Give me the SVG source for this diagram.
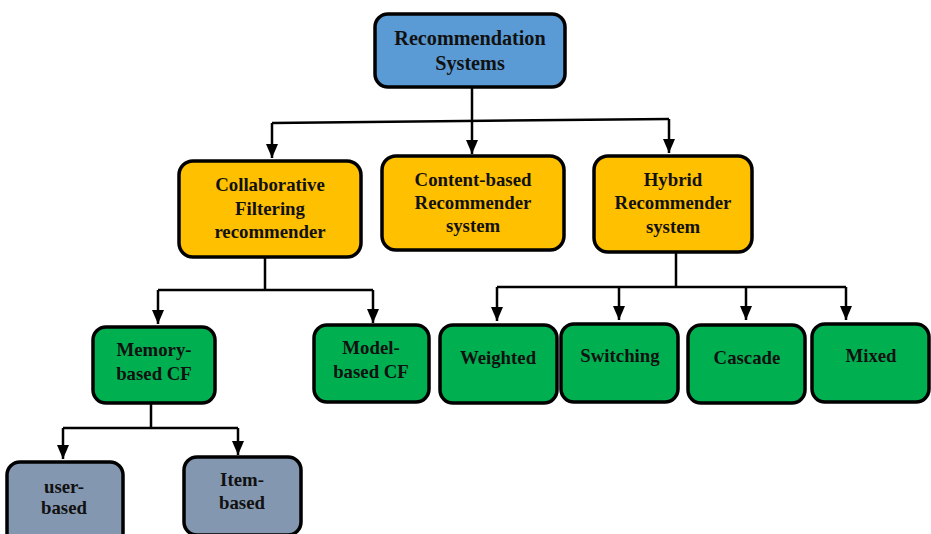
<svg xmlns="http://www.w3.org/2000/svg" width="931" height="534" viewBox="0 0 931 534">
<style>
.box{stroke:#000;stroke-width:3.5}
.blue{fill:#5B9BD5}
.orange{fill:#FFC000}
.green{fill:#00B050}
.gray{fill:#8497B0}
text{font-family:"Liberation Serif","Times New Roman",serif;font-weight:bold;font-size:18.8px;fill:#111;text-anchor:middle}
.big{font-size:20.2px}
.con{fill:none;stroke:#000;stroke-width:2.5}
</style>
<defs>
<marker id="a" markerUnits="userSpaceOnUse" markerWidth="14" markerHeight="12" viewBox="0 0 14 12" refX="14" refY="6" orient="auto">
<path d="M0,0 L14,6 L0,12 Z" fill="#000"/>
</marker>
</defs>
<g id="connectors">
<path class="con" d="M472,87 L472,154" marker-end="url(#a)"/>
<path class="con" d="M272,123 L669,119"/>
<path class="con" d="M272,123 L272,158" marker-end="url(#a)"/>
<path class="con" d="M669,119 L669,153" marker-end="url(#a)"/>
<path class="con" d="M265,257 L265,290 M158,290 L373,290"/>
<path class="con" d="M158,290 L158,324" marker-end="url(#a)"/>
<path class="con" d="M373,290 L373,323" marker-end="url(#a)"/>
<path class="con" d="M676,252 L676,287 M497,287 L846,287"/>
<path class="con" d="M497,287 L497,321" marker-end="url(#a)"/>
<path class="con" d="M619,287 L619,320" marker-end="url(#a)"/>
<path class="con" d="M746,287 L746,320" marker-end="url(#a)"/>
<path class="con" d="M846,287 L846,320" marker-end="url(#a)"/>
<path class="con" d="M151,403 L151,428 M63,428 L238,428"/>
<path class="con" d="M63,428 L63,459" marker-end="url(#a)"/>
<path class="con" d="M238,428 L238,455" marker-end="url(#a)"/>
</g>
<g id="n-rec">
<rect class="box blue" x="375" y="14" width="190" height="73" rx="13"/>
<text class="big" x="470" y="45">Recommendation</text>
<text class="big" x="470" y="70">Systems</text>
</g>
<g id="n-cf">
<rect class="box orange" x="179" y="161" width="182" height="96" rx="14"/>
<text x="270" y="191">Collaborative</text>
<text x="270" y="215">Filtering</text>
<text x="270" y="238">recommender</text>
</g>
<g id="n-cb">
<rect class="box orange" x="382" y="156" width="182" height="94" rx="14"/>
<text x="473" y="186">Content-based</text>
<text x="473" y="209">Recommender</text>
<text x="473" y="232">system</text>
</g>
<g id="n-hy">
<rect class="box orange" x="594" y="156" width="158" height="96" rx="14"/>
<text x="673" y="186">Hybrid</text>
<text x="673" y="209">Recommender</text>
<text x="673" y="233">system</text>
</g>
<g id="n-mem">
<rect class="box green" x="93" y="327" width="122" height="76" rx="13"/>
<text x="154" y="356">Memory-</text>
<text x="154" y="380">based CF</text>
</g>
<g id="n-mod">
<rect class="box green" x="314" y="325" width="115" height="77" rx="13"/>
<text x="371" y="354">Model-</text>
<text x="371" y="378">based CF</text>
</g>
<g id="n-wei">
<rect class="box green" x="440" y="325" width="117" height="78" rx="13"/>
<text x="498" y="364">Weighted</text>
</g>
<g id="n-swi">
<rect class="box green" x="561" y="324" width="117" height="78" rx="13"/>
<text x="620" y="362">Switching</text>
</g>
<g id="n-cas">
<rect class="box green" x="688" y="325" width="117" height="78" rx="13"/>
<text x="747" y="364">Cascade</text>
</g>
<g id="n-mix">
<rect class="box green" x="812" y="324" width="117" height="78" rx="13"/>
<text x="871" y="362">Mixed</text>
</g>
<g id="n-user">
<rect class="box gray" x="7" y="462" width="116" height="90" rx="13"/>
<text x="64" y="493">user-</text>
<text x="64" y="514">based</text>
</g>
<g id="n-item">
<rect class="box gray" x="184" y="457" width="117" height="78" rx="13"/>
<text x="242" y="486">Item-</text>
<text x="242" y="509">based</text>
</g>
</svg>
